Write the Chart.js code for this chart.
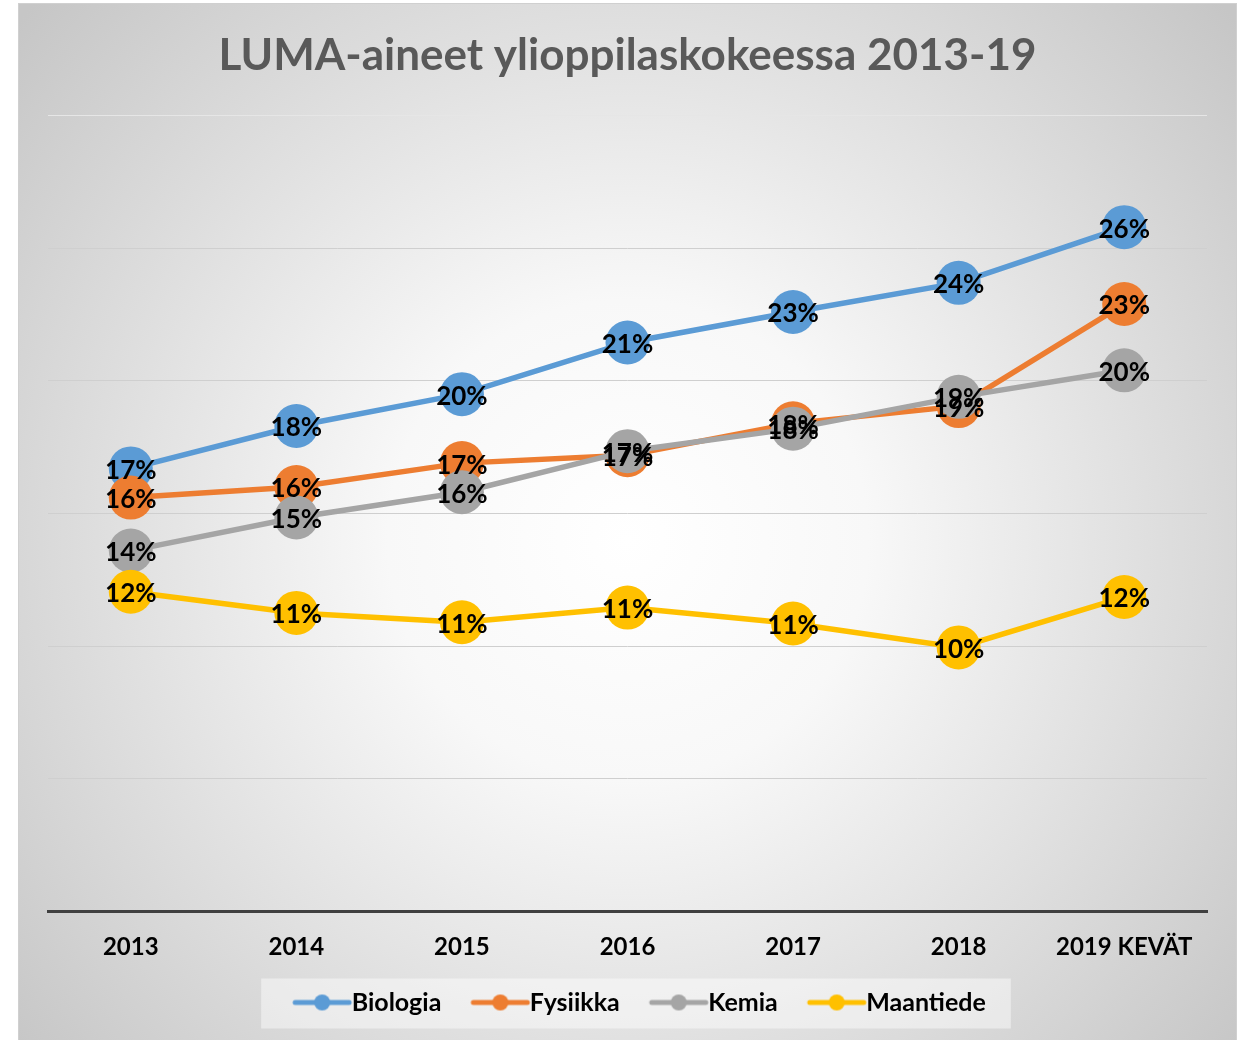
<!DOCTYPE html>
<html>
<head>
<meta charset="utf-8">
<script src="https://cdn.jsdelivr.net/npm/chart.js@4"></script>
<style>
  html, body { margin: 0; padding: 0; background: #fff; }
  #wrap { width: 1245px; height: 1040px; }
</style>
</head>
<body>
<div id="wrap"><canvas id="chart"></canvas></div>
<script>
const years = ["2013", "2014", "2015", "2016", "2017", "2018", "2019 KEVÄT"];
const biologia = [16.7, 18.3, 19.5, 21.45, 22.6, 23.7, 25.8];
const fysiikka = [15.6, 16.0, 16.9, 17.2, 18.4, 19.05, 22.9];
const kemia = [13.6, 14.85, 15.8, 17.35, 18.2, 19.4, 20.4];
const maantiede = [12.05, 11.25, 10.9, 11.45, 10.85, 9.95, 11.85];

const colors = ["#5B9BD5", "#ED7D31", "#A5A5A5", "#FFC000"];
const FONT = "Lato, 'Open Sans', sans-serif";
const EXTRA = 24; // empty space in front of each legend icon (acts as item gap)

// line+dot icons for the legend, drawn off-centre so the text sits close
function legendIcon(color) {
  const c = document.createElement("canvas");
  c.width = 170; c.height = 20;
  const g = c.getContext("2d");
  g.strokeStyle = color;
  g.lineWidth = 5;
  g.lineCap = "round";
  g.beginPath(); g.moveTo(76, 10); g.lineTo(130, 10); g.stroke();
  g.fillStyle = color;
  g.beginPath(); g.arc(103, 10, 8, 0, Math.PI * 2); g.fill();
  return c;
}
const icons = colors.map(legendIcon);

const bgPlugin = {
  id: "bg",
  beforeDraw(chart) {
    const ctx = chart.ctx;
    ctx.save();
    const grd = ctx.createRadialGradient(628, 540, 0, 628, 540, 800);
    grd.addColorStop(0, "#ffffff");
    grd.addColorStop(0.3, "#f8f8f8");
    grd.addColorStop(1, "#c6c6c6");
    ctx.fillStyle = grd;
    ctx.fillRect(18, 3, 1219, 1037);
    ctx.strokeStyle = "#d0d0d0";
    ctx.lineWidth = 1;
    ctx.strokeRect(18.5, 3.5, 1218, 1040);
    // legend box
    const boxes = chart.legend.legendHitBoxes;
    if (boxes && boxes.length) {
      const l = Math.min(...boxes.map(b => b.left)) + EXTRA - 32;
      const r = Math.max(...boxes.map(b => b.left + b.width)) + 25;
      const cy = boxes[0].top + boxes[0].height / 2 + 1;
      ctx.fillStyle = "rgba(255,255,255,0.45)";
      ctx.fillRect(l, cy - 25, r - l, 50);
    }
    ctx.restore();
  }
};

const labelPlugin = {
  id: "pctLabels",
  afterDatasetsDraw(chart) {
    const ctx = chart.ctx;
    ctx.save();
    ctx.font = "bold 26px " + FONT;
    ctx.fillStyle = "#000";
    ctx.textAlign = "center";
    ctx.textBaseline = "middle";
    chart.data.datasets.forEach((ds, di) => {
      chart.getDatasetMeta(di).data.forEach((pt, i) => {
        ctx.fillText(Math.round(ds.data[i]) + "%", pt.x, pt.y + 2);
      });
    });
    ctx.restore();
  }
};

function mkSet(label, data, i) {
  return {
    label: label,
    data: data,
    order: 3 - i, // later series drawn on top, like the original
    borderColor: colors[i],
    backgroundColor: colors[i],
    pointBackgroundColor: colors[i],
    pointBorderWidth: 0,
    pointRadius: 22,
    pointHoverRadius: 22,
    borderWidth: 5.5,
    tension: 0
  };
}

new Chart(document.getElementById("chart"), {
  type: "line",
  data: {
    labels: years,
    datasets: [
      mkSet("Biologia", biologia, 0),
      mkSet("Fysiikka", fysiikka, 1),
      mkSet("Kemia", kemia, 2),
      mkSet("Maantiede", maantiede, 3)
    ]
  },
  options: {
    responsive: true,
    maintainAspectRatio: false,
    animation: false,
    layout: { padding: { left: 48, right: 38, top: 0, bottom: 15 } },
    plugins: {
      title: {
        display: true,
        text: "LUMA-aineet ylioppilaskokeessa 2013-19",
        color: "#595959",
        font: { family: FONT, size: 44, weight: "bold" },
        padding: { top: 29, bottom: 34 }
      },
      legend: {
        position: "bottom",
        labels: {
          usePointStyle: true,
          pointStyleWidth: 46 + EXTRA,
          color: "#000",
          font: { family: FONT, size: 25, weight: "bold" },
          padding: 6,
          sort: (a, b) => a.datasetIndex - b.datasetIndex,
          generateLabels(chart) {
            const items = Chart.defaults.plugins.legend.labels.generateLabels(chart);
            items.forEach(it => { it.pointStyle = icons[it.datasetIndex]; });
            return items;
          }
        }
      },
      tooltip: { enabled: false }
    },
    scales: {
      x: {
        offset: true,
        grid: { display: false, drawTicks: false },
        border: { display: true, color: "#404040", width: 3 },
        ticks: {
          color: "#000",
          padding: 22,
          font: { family: FONT, size: 24, weight: "bold" },
          maxRotation: 0
        }
      },
      y: {
        min: 0,
        max: 30,
        ticks: { display: false, stepSize: 5 },
        border: { display: false },
        grid: {
          drawTicks: false,
          color: ctx => ctx.tick && ctx.tick.value === 30 ? "#e6e6e6" : "#cfcfcf",
          lineWidth: 1
        }
      }
    }
  },
  plugins: [bgPlugin, labelPlugin]
});
</script>
</body>
</html>
